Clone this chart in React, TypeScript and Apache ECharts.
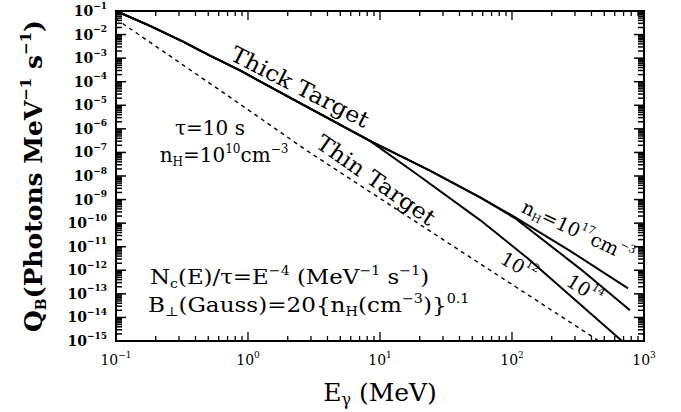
import React, { useEffect, useRef } from "react";
import * as echarts from "echarts";

const X_MIN = 0.1;
const X_MAX = 1000;
const Y_MIN = 1e-15;
const Y_MAX = 1e-1;

// Thick-target trunk (all densities coincide at low energy)
const trunkE = [0.1, 0.181, 0.322, 0.515, 0.87, 2.48, 8.4, 23.9, 57.3];
const trunkQ = [1e-1, 2.34e-2, 4.98e-3, 1.28e-3, 3.0e-4, 1.23e-5, 3.1e-7, 1.7e-8, 1.25e-9];

// high-energy branches (n_H = 1e12, 1e14, 1e17 cm^-3)
const n12E = [20.1, 57.3, 130, 681];
const n12Q = [9.5e-9, 1.35e-10, 3.4e-12, 1e-15];
const n14E = [105, 327, 783];
const n14Q = [1.64e-10, 1.18e-12, 2.0e-14];
const n17E = [105, 275, 757];
const n17Q = [1.81e-10, 6.7e-12, 1.7e-13];

// thin target (dashed)
const thinE = [0.1, 0.77, 2.8, 40.4, 377, 453];
const thinQ = [4.6e-2, 1.8e-5, 1.18e-7, 6.8e-12, 2.0e-15, 1e-15];

const xDecades = [0.1, 1, 10, 100, 1000];
const yDecades = [1e-15, 1e-14, 1e-13, 1e-12, 1e-11, 1e-10, 1e-9, 1e-8, 1e-7, 1e-6, 1e-5, 1e-4, 1e-3, 1e-2, 1e-1];
const minorMultipliers = [2, 3, 4, 5, 6, 7, 8, 9];

const FONT = "'DejaVu Serif', 'Liberation Serif', serif";

const zip = (e: number[], q: number[]) => e.map((v, i) => [v, q[i]]);

function richFor(size: number, weight: string = "normal") {
  return {
    sup: { fontSize: Math.round(size * 0.6), lineHeight: Math.round(size * 0.6), verticalAlign: "top", fontFamily: FONT, fontWeight: weight, fill: "#000", color: "#000" },
    sub: { fontSize: Math.round(size * 0.6), lineHeight: Math.round(size * 0.6), verticalAlign: "bottom", fontFamily: FONT, fontWeight: weight, fill: "#000", color: "#000" },
  };
}

function annot(text: string, x: number, y: number, size: number, rotDeg = 0, align = "center", sx = 1) {
  return {
    type: "text",
    x,
    y,
    rotation: (rotDeg * Math.PI) / 180,
    scaleX: sx,
    silent: true,
    style: {
      text,
      fontSize: size,
      fontFamily: FONT,
      fill: "#000",
      lineHeight: Math.round(size * 1.25),
      align,
      verticalAlign: "middle",
      rich: richFor(size),
    },
  };
}

export default function App() {
  const ref = useRef<HTMLDivElement>(null);
  useEffect(() => {
    if (!ref.current) return;
    const chart = echarts.init(ref.current, undefined, { renderer: "svg" });

    const xTicks: number[][] = [];
    xDecades.forEach((d) => xTicks.push([d, Y_MIN, 9]));
    xDecades.slice(0, -1).forEach((d) => minorMultipliers.forEach((m) => xTicks.push([d * m, Y_MIN, 5])));
    const yTicks: number[][] = [];
    yDecades.forEach((d) => yTicks.push([X_MIN, d, 10]));
    yDecades.slice(0, -1).forEach((d) => minorMultipliers.forEach((m) => yTicks.push([X_MIN, d * m, 6])));

    const expOf = (v: number) => {
      const e = Math.round(Math.log10(v));
      return e < 0 ? "\u2212" + Math.abs(e) : String(e);
    };

    const lineBase = { type: "line", showSymbol: false, symbol: "none", smooth: false, silent: true };

    chart.setOption({
      animation: false,
      backgroundColor: "#fff",
      grid: { left: 116, right: 37, top: 11, bottom: 68, show: true, borderColor: "#000", borderWidth: 2, backgroundColor: "transparent" },
      xAxis: {
        type: "log",
        logBase: 10,
        min: X_MIN,
        max: X_MAX,
        interval: 1,
        axisLine: { show: false },
        axisTick: { show: false },
        splitLine: { show: false },
        axisLabel: {
          margin: 9,
          color: "#000",
          fontFamily: FONT,
          fontSize: 14,
          formatter: (v: number) => `{b|10}{s|${expOf(v)}}`,
          rich: {
            b: { fontSize: 14, fontFamily: FONT, lineHeight: 20, color: "#000" },
            s: { fontSize: 9, fontFamily: FONT, lineHeight: 10, verticalAlign: "top", color: "#000" },
          },
        },
        name: "E{sub|\u03b3} (MeV)",
        nameLocation: "middle",
        nameGap: 36,
        nameTextStyle: {
          fontFamily: FONT,
          fontSize: 25,
          color: "#000",
          lineHeight: 30,
          rich: {
            sub: { fontSize: 16, lineHeight: 16, verticalAlign: "bottom", fontFamily: FONT, color: "#000" },
          },
        },
      },
      yAxis: {
        type: "log",
        logBase: 10,
        min: Y_MIN,
        max: Y_MAX,
        interval: 1,
        axisLine: { show: false },
        axisTick: { show: false },
        splitLine: { show: false },
        axisLabel: {
          margin: 9,
          color: "#000",
          fontFamily: FONT,
          fontSize: 14,
          fontWeight: "bold",
          formatter: (v: number) => `{b|10}{s|${expOf(v)}}`,
          rich: {
            b: { fontSize: 14, fontFamily: FONT, fontWeight: "bold", lineHeight: 20, color: "#000" },
            s: { fontSize: 9, fontFamily: FONT, fontWeight: "bold", lineHeight: 10, verticalAlign: "top", color: "#000" },
          },
        },
        name: "Q{sub|B}(Photons MeV{sup|\u22121} s{sup|\u22121})",
        nameLocation: "middle",
        nameRotate: 90,
        nameGap: 68,
        nameTextStyle: {
          fontFamily: FONT,
          fontSize: 25,
          fontWeight: "bold",
          color: "#000",
          lineHeight: 30,
          rich: {
            sub: { fontSize: 14, lineHeight: 14, verticalAlign: "bottom", fontFamily: FONT, fontWeight: "bold", color: "#000" },
            sup: { fontSize: 15, lineHeight: 15, verticalAlign: "top", fontFamily: FONT, fontWeight: "bold", color: "#000" },
          },
        },
      },
      series: [
        { ...lineBase, name: "Thin Target", data: zip(thinE, thinQ), lineStyle: { color: "#000", width: 1.4, type: [4, 4] } },
        {
          ...lineBase,
          name: "nH=1e12",
          data: [...zip(trunkE.slice(0, 7), trunkQ.slice(0, 7)), ...zip(n12E, n12Q)],
          lineStyle: { color: "#000", width: 2 },
        },
        { ...lineBase, name: "nH=1e14", data: [...zip(trunkE, trunkQ), ...zip(n14E, n14Q)], lineStyle: { color: "#000", width: 2 } },
        { ...lineBase, name: "nH=1e17", data: [...zip(trunkE, trunkQ), ...zip(n17E, n17Q)], lineStyle: { color: "#000", width: 2 } },
        {
          type: "custom",
          silent: true,
          data: xTicks,
          renderItem: (params: any, api: any) => {
            const x = api.coord([api.value(0), Y_MIN])[0];
            const cs = params.coordSys;
            const len = api.value(2);
            return {
              type: "group",
              children: [
                { type: "line", shape: { x1: x, y1: cs.y + cs.height, x2: x, y2: cs.y + cs.height - len }, style: { stroke: "#000", lineWidth: 1.3 } },
                { type: "line", shape: { x1: x, y1: cs.y, x2: x, y2: cs.y + len }, style: { stroke: "#000", lineWidth: 1.3 } },
              ],
            };
          },
        },
        {
          type: "custom",
          silent: true,
          data: yTicks,
          renderItem: (params: any, api: any) => {
            const y = api.coord([X_MIN, api.value(1)])[1];
            const cs = params.coordSys;
            const len = api.value(2);
            return {
              type: "group",
              children: [
                { type: "line", shape: { x1: cs.x, y1: y, x2: cs.x + len, y2: y }, style: { stroke: "#000", lineWidth: 1.5 } },
                { type: "line", shape: { x1: cs.x + cs.width, y1: y, x2: cs.x + cs.width - len, y2: y }, style: { stroke: "#000", lineWidth: 1.5 } },
              ],
            };
          },
        },
      ],
      graphic: [
        annot("Thick Target", 300, 87, 22, -27, "center", 1.08),
        annot("Thin Target", 376, 180, 22, -35, "center", 1.08),
        annot("\u03c4=10 s", 210, 128, 20),
        annot("n{sub|H}=10{sup|10}cm{sup|\u22123}", 224, 155, 20),
        annot("N{sub|c}(E)/\u03c4=E{sup|\u22124} (MeV{sup|\u22121} s{sup|\u22121})", 150, 277, 21, 0, "left", 1.09),
        annot("B{sub|\u22a5}(Gauss)=20{n{sub|H}(cm{sup|\u22123})}{sup|0.1}", 148, 305, 21, 0, "left", 1.1),
        annot("n{sub|H}=10{sup|17}cm{sup|\u22123}", 578, 231, 19, -25),
        annot("10{sup|12}", 519, 266, 19, -30),
        annot("10{sup|14}", 585, 289, 19, -32),
      ],
    });
    return () => chart.dispose();
  }, []);
  return <div ref={ref} style={{ position: "fixed", left: 0, top: 0, width: 681, height: 412, background: "#fff" }} />;
}
